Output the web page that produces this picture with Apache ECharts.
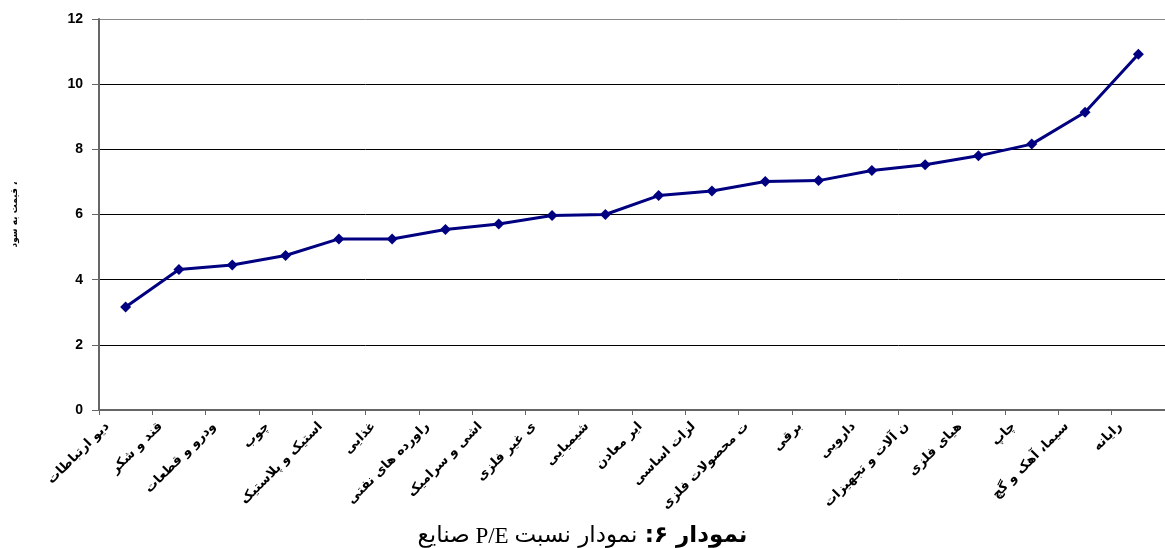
<!DOCTYPE html>
<html>
<head>
<meta charset="utf-8">
<script src="https://cdn.jsdelivr.net/npm/echarts@6/dist/echarts.min.js"></script>
<style>
html,body{margin:0;padding:0;background:#fff;}
#c{width:1165px;height:548px;}
</style>
</head>
<body>
<div id="c"></div>
<script>
const categories = [
  "دیو ارتباطات", "قند و شکر", "ودرو و قطعات", "چوب", "استیک و پلاستیک",
  "غذایی", "راورده های نفتی", "اشی و سرامیک", "ی غیر فلزی", "شیمیایی",
  "ایر معادن", "لزات اساسی", "ت محصولات فلزی", "برقی", "دارویی",
  "ن آلات و تجهیزات", "هیای فلزی", "چاپ", "سیما، آهک و گچ", "رایانه"
];
const peValues = [
  3.16, 4.31, 4.45, 4.74, 5.25, 5.25, 5.54, 5.71, 5.97, 6.0,
  6.58, 6.72, 7.01, 7.04, 7.35, 7.53, 7.80, 8.16, 9.14, 10.92
];
const yTicks = { min: 0, max: 12, interval: 2 };
const yAxisName = "قیمت به سود ،";

const chart = echarts.init(document.getElementById('c'), null, { renderer: 'canvas' });
chart.setOption({
  animation: false,
  backgroundColor: '#fff',
  title: {
    text: '{n|صنایع}{s| P/E }{n|نمودار نسبت}{n| }{b|:۶ }{b|نمودار}',
    left: 'center',
    top: 520,
    textStyle: {
      fontWeight: 'normal',
      rich: {
        n: { fontFamily: '"DejaVu Sans"', fontSize: 23, fontWeight: 'normal', color: '#000' },
        s: { fontFamily: '"Liberation Serif"', fontSize: 23, fontWeight: 'normal', color: '#000' },
        b: { fontFamily: '"DejaVu Sans"', fontSize: 23, fontWeight: 'bold', color: '#000' }
      }
    }
  },
  grid: { left: 99, top: 19, width: 1078, bottom: 138, containLabel: false },
  xAxis: {
    type: 'category',
    data: categories,
    boundaryGap: true,
    axisLine: { lineStyle: { color: '#666', width: 2 } },
    axisTick: { show: true, length: 5, lineStyle: { color: '#666' } },
    axisLabel: {
      interval: 0,
      rotate: 45,
      margin: -4,
      padding: [0, 26, 0, 0],
      fontFamily: '"DejaVu Sans"',
      fontWeight: 'bold',
      fontSize: 13,
      color: '#000'
    },
    splitLine: { show: false }
  },
  yAxis: {
    type: 'value',
    min: yTicks.min,
    max: yTicks.max,
    interval: yTicks.interval,
    name: yAxisName,
    nameLocation: 'middle',
    nameRotate: 90,
    nameGap: 80,
    nameTextStyle: { fontFamily: '"DejaVu Sans"', fontSize: 9, fontWeight: 'bold', color: '#000' },
    axisLine: { show: true, lineStyle: { color: '#666', width: 2 } },
    axisTick: { show: true, length: 7, lineStyle: { color: '#666' } },
    axisLabel: {
      margin: 16,
      fontFamily: '"Liberation Sans", Arial',
      fontWeight: 'bold',
      fontSize: 14,
      color: '#000'
    },
    splitLine: {
      show: true,
      lineStyle: { color: ['#000', '#000', '#000', '#000', '#000', '#000', '#888'], width: 1 }
    }
  },
  series: [{
    type: 'line',
    data: peValues,
    symbol: 'diamond',
    symbolSize: 11,
    lineStyle: { color: '#000080', width: 3 },
    itemStyle: { color: '#000080' }
  }]
});
</script>
</body>
</html>
